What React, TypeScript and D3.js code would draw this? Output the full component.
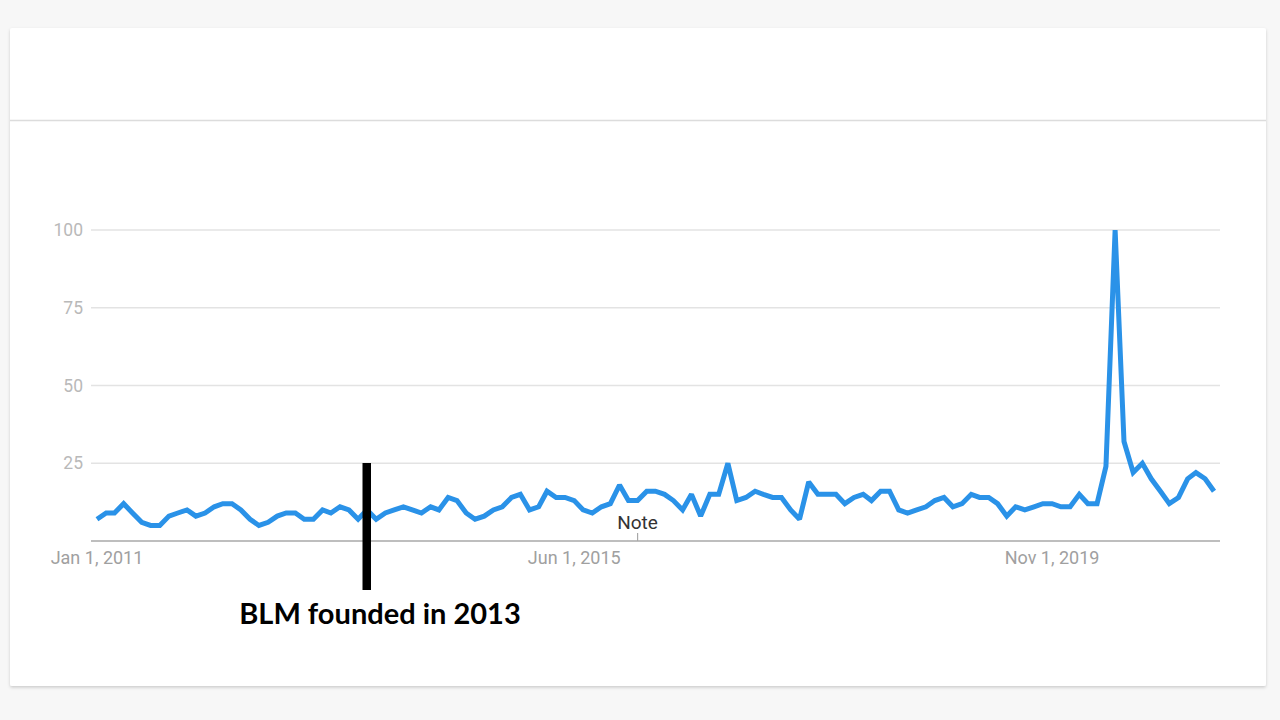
import React from "react";
import * as d3 from "d3";

const startDate = new Date(2011, 0, 1);
const interest: number[] = [
  7, 9, 9, 12, 9, 6, 5, 5, 8, 9, 10, 8, 9, 11, 12, 12, 10,
  7, 5, 6, 8, 9, 9, 7, 7, 10, 9, 11, 10, 7, 10, 7, 9, 10, 11, 10, 9, 11,
  10, 14, 13, 9, 7, 8, 10, 11, 14, 15, 10, 11, 16, 14, 14, 13, 10, 9, 11, 12, 18,
  13, 13, 16, 16, 15, 13, 10, 15, 8, 15, 15, 25, 13, 14, 16, 15, 14, 14, 10, 7, 19,
  15, 15, 15, 12, 14, 15, 13, 16, 16, 10, 9, 10, 11, 13, 14, 11, 12, 15, 14, 14, 12,
  8, 11, 10, 11, 12, 12, 11, 11, 15, 12, 12, 24, 100, 32, 22, 25, 20, 16, 12, 14, 20, 22, 20, 16,
];
const yTicks: number[] = [25, 50, 75, 100];
const xTickDates: Date[] = [new Date(2011, 0, 1), new Date(2015, 5, 1), new Date(2019, 10, 1)];
const xTickLabels: string[] = ["Jan 1, 2011", "Jun 1, 2015", "Nov 1, 2019"];
const noteDate = new Date(2016, 0, 1);
const noteLabel = "Note";
const annotationDate = new Date(2013, 6, 1);
const annotationLabel = "BLM founded in 2013";

const series = interest.map((v, i) => ({ date: d3.timeMonth.offset(startDate, i), value: v }));

export default function App() {
  const W = 1280, H = 720;
  const x = d3.scaleTime()
    .domain([series[0].date, series[series.length - 1].date])
    .range([97, 1214]);
  const y = d3.scaleLinear().domain([0, 100]).range([541, 230]);
  const line = d3.line<{ date: Date; value: number }>()
    .x(d => x(d.date))
    .y(d => y(d.value));
  const gridX0 = 91, gridX1 = 1220;
  const ax = x(annotationDate);
  const nx = x(noteDate);
  return (
    <svg width={W} height={H} style={{ position: "absolute", left: 0, top: 0 }}>
      <defs>
        <filter id="sh" x="-5%" y="-5%" width="110%" height="110%">
          <feDropShadow dx="0" dy="1.5" stdDeviation="1.6" floodColor="#000" floodOpacity="0.18" />
        </filter>
        <clipPath id="plot">
          <rect x={gridX0} y={229} width={gridX1 - gridX0} height={320} />
        </clipPath>
      </defs>
      <rect x={0} y={0} width={W} height={H} fill="#f7f7f7" />
      <rect x={10} y={28} width={1256} height={658} fill="#fff" filter="url(#sh)" rx={2} />
      <line x1={10} x2={1266} y1={120.5} y2={120.5} stroke="#dcdcdc" strokeWidth={1.5} />
      {yTicks.map(t => (
        <g key={t}>
          <line x1={gridX0} x2={gridX1} y1={y(t)} y2={y(t)} stroke="#e3e3e3" strokeWidth={1.5} />
          <text x={83} y={y(t)} dy="0.35em" textAnchor="end" fontFamily="Roboto" fontSize={17.5} fill="#b9b9b9">{t}</text>
        </g>
      ))}
      <line x1={gridX0} x2={gridX1} y1={y(0)} y2={y(0)} stroke="#a8a8a8" strokeWidth={1.5} />
      {xTickDates.map((d, i) => (
        <text key={i} x={x(d)} y={564} textAnchor="middle" fontFamily="Roboto" fontSize={18} fill="#a0a0a0">{xTickLabels[i]}</text>
      ))}
      <line x1={nx} x2={nx} y1={533} y2={541} stroke="#a8a8a8" strokeWidth={1.2} />
      <text x={nx} y={529} textAnchor="middle" fontFamily="Roboto" fontSize={19} fill="#333">{noteLabel}</text>
      <path d={line(series) ?? ""} fill="none" stroke="#2a92e8" strokeWidth={5} strokeLinejoin="miter" strokeMiterlimit={2} clipPath="url(#plot)" />
      <rect x={ax - 4.5} y={463} width={8.5} height={127} fill="#000" />
      <text x={380} y={624} textAnchor="middle" fontFamily="Lato" fontWeight="bold" fontSize={29} fill="#000">{annotationLabel}</text>
    </svg>
  );
}
